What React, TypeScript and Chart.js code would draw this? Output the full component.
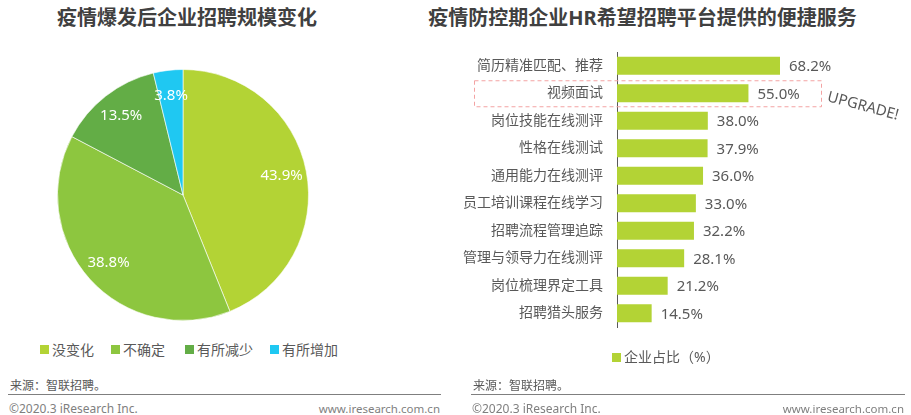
import React, { useEffect, useRef } from "react";
import { Chart, registerables } from "chart.js";
Chart.register(...registerables);

const leftTitle = "疫情爆发后企业招聘规模变化";
const rightTitle = "疫情防控期企业HR希望招聘平台提供的便捷服务";

const pieLabels = ["没变化", "不确定", "有所减少", "有所增加"];
const pieValues = [43.9, 38.8, 13.5, 3.8];
const pieColors = ["#b3d335", "#8dc63f", "#63ad46", "#1fc8f2"];

const barCategories = [
  "简历精准匹配、推荐",
  "视频面试",
  "岗位技能在线测评",
  "性格在线测试",
  "通用能力在线测评",
  "员工培训课程在线学习",
  "招聘流程管理追踪",
  "管理与领导力在线测评",
  "岗位梳理界定工具",
  "招聘猎头服务",
];
const barValues = [68.2, 55.0, 38.0, 37.9, 36.0, 33.0, 32.2, 28.1, 21.2, 14.5];
const barSeriesName = "企业占比（%）";
const barColor = "#b3d335";
const highlightIndex = 1;
const highlightNote = "UPGRADE!";

const sourceText = "来源：智联招聘。";
const copyrightText = "©2020.3 iResearch Inc.";
const urlText = "www.iresearch.com.cn";

const FONT = '"Noto Sans", "Noto Sans CJK SC", sans-serif';
const TEXT = "#595959";

const pieLabelPlugin = {
  id: "pieValueLabels",
  afterDatasetsDraw(chart: any) {
    const ctx = chart.ctx;
    const meta = chart.getDatasetMeta(0);
    ctx.save();
    ctx.fillStyle = "#ffffff";
    ctx.font = `15px ${FONT}`;
    ctx.textAlign = "center";
    ctx.textBaseline = "middle";
    meta.data.forEach((arc: any, i: number) => {
      const p = arc.getProps(["x", "y", "startAngle", "endAngle", "outerRadius"], true);
      const mid = (p.startAngle + p.endAngle) / 2;
      const r = p.outerRadius * 0.8;
      ctx.fillText(pieValues[i].toFixed(1) + "%", p.x + Math.cos(mid) * r, p.y + Math.sin(mid) * r);
    });
    ctx.restore();
  },
};

const barLabelPlugin = {
  id: "barValueLabels",
  afterDatasetsDraw(chart: any) {
    const ctx = chart.ctx;
    const meta = chart.getDatasetMeta(0);
    const area = chart.chartArea;
    ctx.save();
    ctx.fillStyle = TEXT;
    ctx.font = `15px ${FONT}`;
    ctx.textAlign = "left";
    ctx.textBaseline = "middle";
    meta.data.forEach((bar: any, i: number) => {
      ctx.fillText(barValues[i].toFixed(1) + "%", bar.x + 9, bar.y + 1);
    });
    // highlight box
    const yc = chart.scales.y.getPixelForValue(highlightIndex);
    const left = area.left - 143;
    const right = area.left + 204;
    ctx.strokeStyle = "#f3a3a3";
    ctx.lineWidth = 1;
    ctx.setLineDash([4, 3]);
    ctx.strokeRect(left + 0.5, yc - 12.5, right - left, 26);
    ctx.setLineDash([]);
    // note
    ctx.translate(right + 42, yc + 13);
    ctx.rotate((15 * Math.PI) / 180);
    ctx.font = `15px ${FONT}`;
    ctx.textAlign = "center";
    ctx.fillStyle = TEXT;
    ctx.fillText(highlightNote, 0, 0);
    ctx.restore();
  },
};

function PieChart() {
  const ref = useRef<HTMLCanvasElement>(null);
  useEffect(() => {
    const chart = new Chart(ref.current as HTMLCanvasElement, {
      type: "pie",
      data: {
        labels: pieLabels,
        datasets: [
          {
            data: pieValues,
            backgroundColor: pieColors,
            borderColor: "rgba(255,255,255,0.6)",
            borderWidth: 1,
            hoverOffset: 0,
          },
        ],
      },
      options: {
        responsive: false,
        animation: false,
        layout: { padding: 0 },
        plugins: { legend: { display: false }, tooltip: { enabled: false } },
      } as any,
      plugins: [pieLabelPlugin],
    });
    return () => chart.destroy();
  }, []);
  return (
    <canvas
      ref={ref}
      width={252}
      height={252}
      style={{ position: "absolute", left: 57, top: 69, width: 252, height: 252 }}
    />
  );
}

function BarChart() {
  const ref = useRef<HTMLCanvasElement>(null);
  useEffect(() => {
    const chart = new Chart(ref.current as HTMLCanvasElement, {
      type: "bar",
      data: {
        labels: barCategories,
        datasets: [
          {
            label: barSeriesName,
            data: barValues,
            backgroundColor: barColor,
            borderWidth: 0,
            categoryPercentage: 1,
            barPercentage: 0.65,
          },
        ],
      },
      options: {
        indexAxis: "y",
        responsive: false,
        animation: false,
        layout: { padding: { top: 52, bottom: 88, left: 0, right: 55 } },
        plugins: { legend: { display: false }, tooltip: { enabled: false } },
        scales: {
          x: { display: false, min: 0, max: 100 },
          y: {
            afterFit: (scale: any) => {
              scale.width = 157;
            },
            grid: { display: true, drawOnChartArea: false, drawTicks: false },
            border: { display: true, color: "#595959", width: 1 },
            ticks: {
              color: TEXT,
              font: { size: 14, family: FONT },
              padding: 14,
            },
          },
        },
      } as any,
      plugins: [barLabelPlugin],
    });
    return () => chart.destroy();
  }, []);
  return (
    <canvas
      ref={ref}
      width={451}
      height={415}
      style={{ position: "absolute", left: 460, top: 0, width: 451, height: 415 }}
    />
  );
}

const sq = (color: string): React.CSSProperties => ({
  display: "inline-block",
  width: 9,
  height: 9,
  background: color,
  marginRight: 3,
});

function Footer({ left, width }: { left: number; width: number }) {
  return (
    <>
      <div style={{ position: "absolute", left: left + 2, top: 377, fontSize: 12, color: TEXT, lineHeight: "18px" }}>
        {sourceText}
      </div>
      <div style={{ position: "absolute", left, top: 394, width, height: 1, background: "#7f7f7f" }} />
      <div style={{ position: "absolute", left: left + 1, top: 400, fontSize: 12, color: "#7f7f7f", lineHeight: "18px" }}>
        {copyrightText}
      </div>
      <div
        style={{
          position: "absolute",
          left,
          width: width - 1,
          top: 400,
          fontSize: 11.5,
          color: "#7f7f7f",
          lineHeight: "18px",
          textAlign: "right",
        }}
      >
        {urlText}
      </div>
    </>
  );
}

export default function App() {
  return (
    <div
      style={{
        position: "absolute",
        left: 0,
        top: 0,
        width: 911,
        height: 415,
        background: "#ffffff",
        fontFamily: FONT,
        overflow: "hidden",
      }}
    >
      <div
        style={{
          position: "absolute",
          left: 0,
          width: 374,
          top: 4,
          textAlign: "center",
          fontSize: 20,
          fontWeight: "bold",
          color: "#404040",
          lineHeight: "28px",
        }}
      >
        {leftTitle}
      </div>
      <div
        style={{
          position: "absolute",
          left: 400,
          width: 485,
          top: 4,
          textAlign: "center",
          fontSize: 20,
          fontWeight: "bold",
          color: "#404040",
          lineHeight: "28px",
        }}
      >
        {rightTitle}
      </div>
      <PieChart />
      <BarChart />
      <div style={{ position: "absolute", left: 40, top: 339, fontSize: 14, color: TEXT, lineHeight: "20px", whiteSpace: "nowrap" }}>
        {pieLabels.map((l, i) => (
          <span key={l} style={{ marginRight: i === 1 ? 20 : 17, display: "inline-flex", alignItems: "center" }}>
            <span style={sq(pieColors[i])} />
            {l}
          </span>
        ))}
      </div>
      <div style={{ position: "absolute", left: 612, top: 347, fontSize: 14, color: TEXT, lineHeight: "20px", whiteSpace: "nowrap", display: "flex", alignItems: "center" }}>
        <span style={sq(barColor)} />
        {barSeriesName}
      </div>
      <Footer left={8} width={433} />
      <Footer left={471} width={434} />
    </div>
  );
}
